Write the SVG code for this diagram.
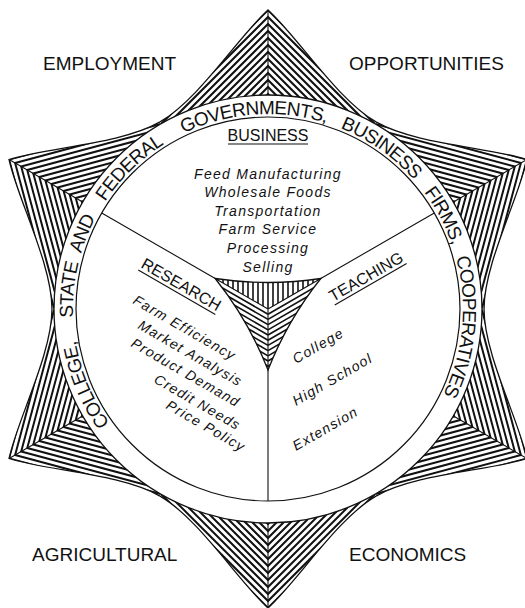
<svg xmlns="http://www.w3.org/2000/svg" width="525" height="608" viewBox="0 0 525 608">
<style>
.hatch{fill:none;stroke:#111;stroke-width:2}
.thatch{fill:none;stroke:#111;stroke-width:1.6}
.edge{fill:none;stroke:#111;stroke-width:1.3}
.thin{fill:none;stroke:#111;stroke-width:1.1}
.lab{font-family:"Liberation Sans",Arial,sans-serif;fill:#111}
.corner{font-size:19px}
.head{font-size:16px}
.item{font-size:14px;font-style:italic;letter-spacing:1.3px}
.ring{font-size:19px;letter-spacing:-0.7px}
</style>
<defs>
<clipPath id="armClip"><path d="M268 10C238.3 36.8 199 99.4 160 121.9L268 220L376 121.9C337 99.4 297.7 36.8 268 10Z"/></clipPath>
<clipPath id="triTop"><path d="M215.2 278.5Q268 286.5 320.8 278.5L268 309Z"/></clipPath>
<clipPath id="triLeft"><path d="M215.2 278.5L268 309L268 370Q248.5 320.25 215.2 278.5Z"/></clipPath>
<clipPath id="triRight"><path d="M320.8 278.5L268 309L268 370Q287.5 320.25 320.8 278.5Z"/></clipPath>
<g id="arm">
<g clip-path="url(#armClip)">
<path class="hatch" d="M118 160L268 10L418 160M118 167L268 17L418 167M118 174L268 24L418 174M118 181L268 31L418 181M118 188L268 38L418 188M118 195L268 45L418 195M118 202L268 52L418 202M118 209L268 59L418 209M118 216L268 66L418 216M118 223L268 73L418 223M118 230L268 80L418 230M118 237L268 87L418 237M118 244L268 94L418 244M118 251L268 101L418 251"/>
</g>
<path class="thin" d="M268 10V110"/>
<path class="edge" d="M160 121.9C199 99.4 238.3 36.8 268 10C297.7 36.8 337 99.4 376 121.9"/>
</g>
<path id="ringPath" d="M109.8 423.1A195 195 0 1 1 417.4 434.4"/>
</defs>
<rect width="525" height="608" fill="#fff"/>
<g id="star">
<use id="arm-top" href="#arm"/>
<use id="arm-upper-right" href="#arm" transform="rotate(60 268 309)"/>
<use id="arm-lower-right" href="#arm" transform="rotate(120 268 309)"/>
<use id="arm-bottom" href="#arm" transform="rotate(180 268 309)"/>
<use id="arm-lower-left" href="#arm" transform="rotate(240 268 309)"/>
<use id="arm-upper-left" href="#arm" transform="rotate(300 268 309)"/>
</g>
<g id="ring">
<circle cx="268" cy="309" r="214" fill="#fff" stroke="#111" stroke-width="1.3"/>
<circle cx="268" cy="309" r="192" fill="none" stroke="#111" stroke-width="1.2"/>
<g class="lab ring">
<text><textPath href="#ringPath" startOffset="0">COLLEGE,</textPath></text>
<text><textPath href="#ringPath" startOffset="113.3">STATE</textPath></text>
<text><textPath href="#ringPath" startOffset="178">AND</textPath></text>
<text><textPath href="#ringPath" startOffset="235.2">FEDERAL</textPath></text>
<text><textPath href="#ringPath" startOffset="340.7">GOV</textPath></text>
<text><textPath href="#ringPath" startOffset="380.8">ERNM</textPath></text>
<text><textPath href="#ringPath" startOffset="434">ENTS,</textPath></text>
<text><textPath href="#ringPath" startOffset="502">BUSINESS</textPath></text>
<text><textPath href="#ringPath" startOffset="608.5">FIRMS,</textPath></text>
<text><textPath href="#ringPath" startOffset="681.7">COOPERATIVES</textPath></text>
</g>
</g>
<g id="connectors">
<path class="thin" d="M101.7 213L215.2 278.5M434.3 213L320.8 278.5M268 370V501"/>
</g>
<g id="center-triangle">
<g clip-path="url(#triTop)"><path class="thatch" d="M218 272V312M223 272V312M228 272V312M233 272V312M238 272V312M243 272V312M248 272V312M253 272V312M258 272V312M263 272V312M268 272V312M273 272V312M278 272V312M283 272V312M288 272V312M293 272V312M298 272V312M303 272V312M308 272V312M313 272V312M318 272V312"/></g>
<g clip-path="url(#triLeft)"><path class="thatch" d="M268 314.2L207.4 279.2M268 319.4L207.4 284.4M268 324.6L207.4 289.6M268 329.8L207.4 294.8M268 335L207.4 300M268 340.2L207.4 305.2M268 345.4L207.4 310.4M268 350.6L207.4 315.6M268 355.8L207.4 320.8M268 361L207.4 326M268 366.2L207.4 331.2M268 371.4L207.4 336.4"/></g>
<g clip-path="url(#triRight)"><path class="thatch" d="M268 314.2L328.6 279.2M268 319.4L328.6 284.4M268 324.6L328.6 289.6M268 329.8L328.6 294.8M268 335L328.6 300M268 340.2L328.6 305.2M268 345.4L328.6 310.4M268 350.6L328.6 315.6M268 355.8L328.6 320.8M268 361L328.6 326M268 366.2L328.6 331.2M268 371.4L328.6 336.4"/></g>
<path class="thin" d="M268 309L215.2 278.5M268 309L320.8 278.5M268 309V370"/>
<path class="edge" d="M215.2 278.5Q268 286.5 320.8 278.5Q287.5 320.25 268 370Q248.5 320.25 215.2 278.5Z"/>
</g>
<g id="corner-labels" class="lab corner">
<text x="43" y="70">EMPLOYMENT</text>
<text x="349" y="70">OPPORTUNITIES</text>
<text x="32" y="561">AGRICULTURAL</text>
<text x="349" y="561">ECONOMICS</text>
</g>
<g id="business">
<text class="lab head" x="268" y="140.5" text-anchor="middle">BUSINESS</text>
<path class="thin" d="M228 144H308"/>
<g class="lab item" text-anchor="middle">
<text x="268" y="179">Feed Manufacturing</text>
<text x="268" y="197">Wholesale Foods</text>
<text x="268" y="215.5">Transportation</text>
<text x="268" y="234">Farm Service</text>
<text x="268" y="252.5">Processing</text>
<text x="268" y="271.5">Selling</text>
</g>
</g>
<g id="research">
<g transform="translate(140 267) rotate(30)">
<text class="lab head" x="0" y="0">RESEARCH</text>
<path class="thin" d="M0 3.5H89"/>
</g>
<g class="lab item">
<text transform="translate(132 303) rotate(30)">Farm Efficiency</text>
<text transform="translate(137 328) rotate(30)">Market Analysis</text>
<text transform="translate(130 346) rotate(30)">Product Demand</text>
<text transform="translate(153 382) rotate(30)">Credit Needs</text>
<text transform="translate(165 408) rotate(30)">Price Policy</text>
</g>
</g>
<g id="teaching">
<g transform="translate(333 302) rotate(-30)">
<text class="lab head" x="0" y="0">TEACHING</text>
<path class="thin" d="M0 3.5H83"/>
</g>
<g class="lab item">
<text transform="translate(296 364) rotate(-30)">College</text>
<text transform="translate(296 406) rotate(-30)">High School</text>
<text transform="translate(296 451) rotate(-30)">Extension</text>
</g>
</g>
</svg>
